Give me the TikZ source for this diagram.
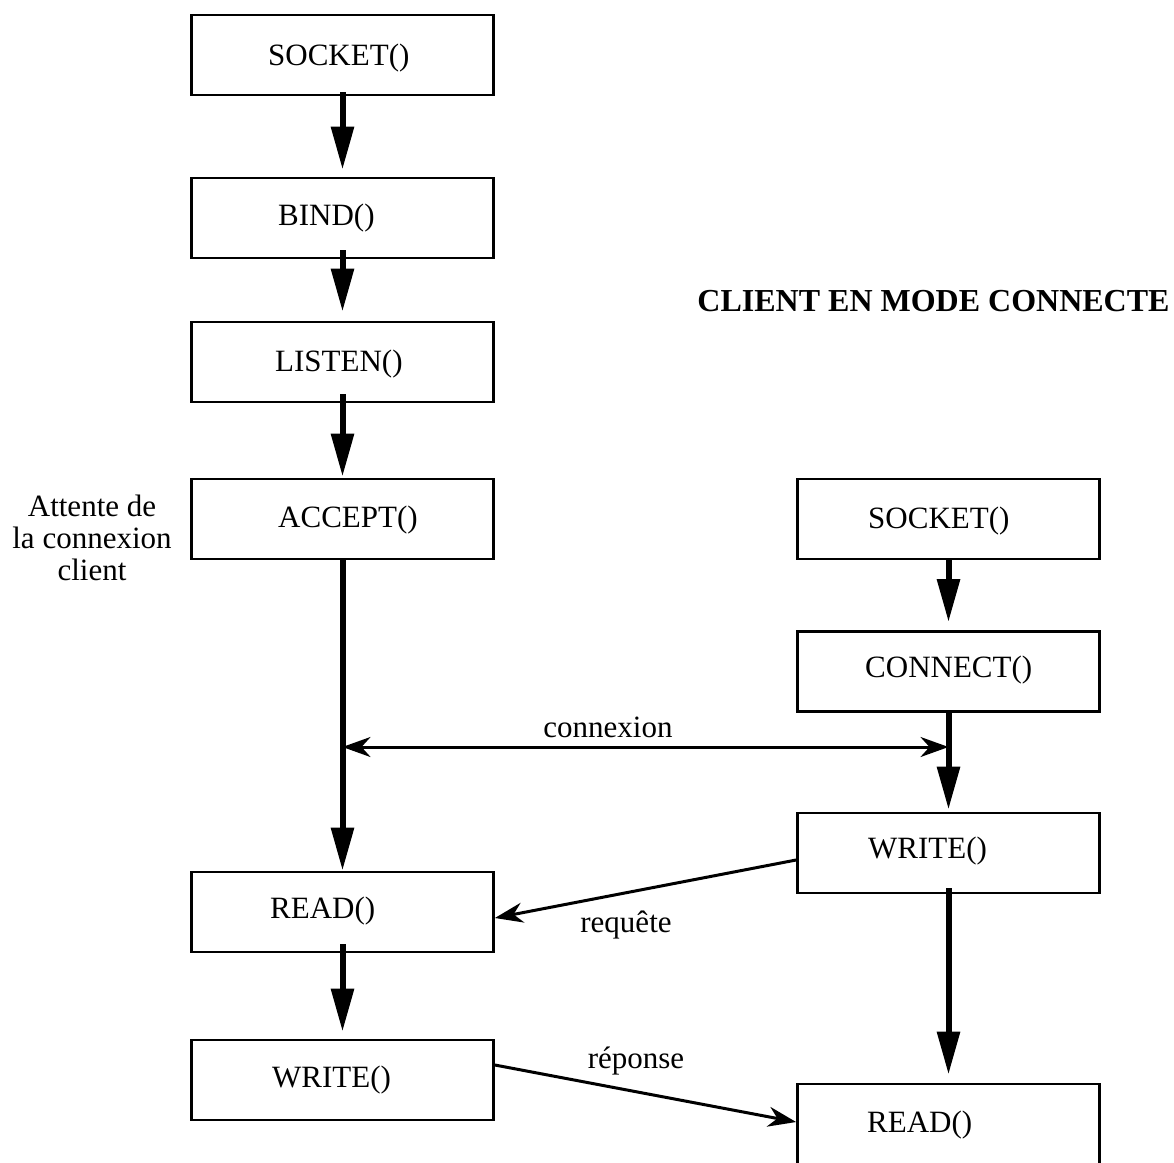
\documentclass[tikz,border=0pt]{standalone}
\usepackage{fontspec}
\setmainfont{Liberation Serif}
\usetikzlibrary{arrows.meta,calc}

\tikzset{
  callbox/.style={draw, line width=2.8pt, rectangle, minimum width=302pt,
                  minimum height=80pt, inner sep=0pt},
  calltext/.style={anchor=base west, inner sep=0pt, font=\fontsize{31}{31}\selectfont},
  sidetext/.style={anchor=base, inner sep=0pt, font=\fontsize{31}{31}\selectfont},
  flow/.style={line width=6pt, -{Triangle[length=43pt,width=22pt]}},
  msg/.style={line width=3pt, -{Stealth[length=28pt,width=20pt,inset=9pt]}},
  msgboth/.style={line width=3pt, {Stealth[length=28pt,width=20pt,inset=9pt]}-{Stealth[length=28pt,width=20pt,inset=9pt]}},
}

\begin{document}
\begin{tikzpicture}[x=1pt,y=-1pt]
\useasboundingbox (0,0) rectangle (1174,1162);

% server side
\node[callbox] (lsock)  at (342.5,55)   {};
\node[callbox] (lbind)  at (342.5,218)  {};
\node[callbox] (llis)   at (342.5,362)  {};
\node[callbox] (lacc)   at (342.5,519)  {};
\node[callbox] (lread)  at (342.5,912)  {};
\node[callbox] (lwrite) at (342.5,1080) {};

\node[calltext] (lsock-t)  at (268,65)   {SOCKET()};
\node[calltext] (lbind-t)  at (278,225)  {BIND()};
\node[calltext] (llis-t)   at (275,371)  {LISTEN()};
\node[calltext] (lacc-t)   at (278,527)  {ACCEPT()};
\node[calltext] (lread-t)  at (270,918)  {READ()};
\node[calltext] (lwrite-t) at (272,1087) {WRITE()};

\node[sidetext] (wait1) at (92,516) {Attente de};
\node[sidetext] (wait2) at (92,548) {la connexion};
\node[sidetext] (wait3) at (92,580) {client};

% client side
\node[anchor=base, inner sep=0pt, font=\fontsize{32}{32}\selectfont\bfseries]
  (title) at (933.5,311) {CLIENT EN MODE CONNECTE};

\node[callbox] (rsock)  at (948.5,519)  {};
\node[callbox] (rcon)   at (948.5,671.5){};
\node[callbox] (rwrite) at (948.5,853)  {};
\node[callbox] (rread)  at (948.5,1124) {};

\node[calltext] (rsock-t)  at (868,528)  {SOCKET()};
\node[calltext] (rcon-t)   at (865,677)  {CONNECT()};
\node[calltext] (rwrite-t) at (868,858)  {WRITE()};
\node[calltext] (rread-t)  at (867,1132) {READ()};

% sequence arrows
\draw[flow, shorten <=-4pt, shorten >=7pt] (lsock.south) -- (lbind.north);
\draw[flow, shorten <=-9pt, shorten >=9pt] (lbind.south) -- (llis.north);
\draw[flow, shorten <=-9pt, shorten >=1pt] (llis.south) -- (lacc.north);
\draw[flow] (lacc.south) -- (lread.north);
\draw[flow, shorten <=-9pt, shorten >=7pt] (lread.south) -- (lwrite.north);

\draw[flow, shorten >=8pt] (rsock.south) -- (rcon.north);
\draw[flow, shorten >=2pt] (rcon.south) -- (rwrite.north);
\draw[flow, shorten <=-6pt, shorten >=8pt] (rwrite.south) -- (rread.north);

% exchanges between the two sides
\coordinate (cony) at (0,747);
\draw[msgboth] (lacc.south |- cony) -- (rcon.south |- cony);
\node[anchor=base, inner sep=0pt, font=\fontsize{31}{31}\selectfont] (conlbl) at (608,737) {connexion};

\draw[msg] ($(rwrite.west)+(0,7)$) -- ($(lread.east)+(0,6)$);
\node[anchor=base, inner sep=0pt, font=\fontsize{31}{31}\selectfont] (reqlbl) at (626,932) {requête};

\draw[msg] ($(lwrite.east)+(0,-15)$) -- ($(rread.west)+(0,-2)$);
\node[anchor=base, inner sep=0pt, font=\fontsize{31}{31}\selectfont] (replbl) at (636,1068) {réponse};
\end{tikzpicture}
\end{document}
